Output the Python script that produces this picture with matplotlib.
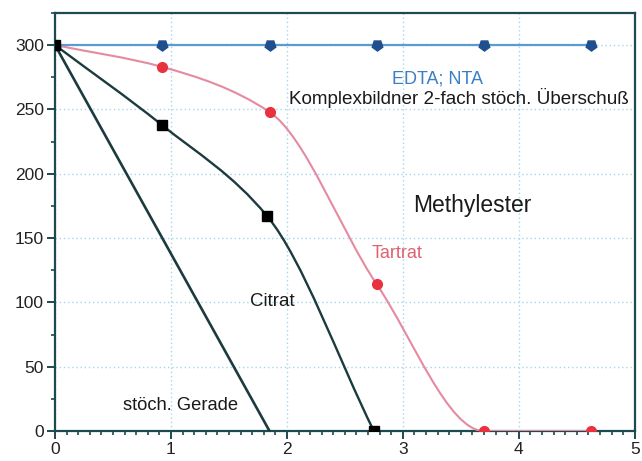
import numpy as np
import matplotlib
matplotlib.use("Agg")
import matplotlib.pyplot as plt
from matplotlib.path import Path
from matplotlib.patches import PathPatch
from matplotlib.ticker import MultipleLocator

plt.rcParams['font.family'] = ['Liberation Sans', 'DejaVu Sans']

# ---------------- Data ----------------
edta_x = [0, 0.925, 1.85, 2.775, 3.7, 4.625]
edta_y = [300, 300, 300, 300, 300, 300]

tartrat_x = [0, 0.925, 1.85, 2.775, 3.7, 4.625]
tartrat_y = [300, 283, 248, 114, 0, 0]

citrat_x = [0, 0.92, 1.83, 2.75]
citrat_y = [300, 238, 167, 0]

gerade_x = [0, 1.85]
gerade_y = [300, 0]

# ---------------- Colours ----------------
spine_col = "#1d4a50"
dark_line = "#1c3b3e"
blue_line = "#5a9bd0"
blue_mark = "#1f4f8c"
red_line = "#e58aa0"
red_mark = "#e8323f"
grid_col = "#a6d6ea"


def smooth_path(xs, ys):
    # monotone cubic (Fritsch-Carlson) tangents, drawn as bezier segments
    x = np.asarray(xs, float)
    y = np.asarray(ys, float)
    h = np.diff(x)
    d = np.diff(y) / h
    m = np.zeros_like(y)
    m[0], m[-1] = d[0], d[-1]
    for k in range(1, len(x) - 1):
        if d[k - 1] * d[k] <= 0:
            m[k] = 0
        else:
            w1 = 2 * h[k] + h[k - 1]
            w2 = h[k] + 2 * h[k - 1]
            m[k] = (w1 + w2) / (w1 / d[k - 1] + w2 / d[k])
    verts = [(x[0], y[0])]
    codes = [Path.MOVETO]
    for k in range(len(x) - 1):
        verts += [(x[k] + h[k] / 3, y[k] + m[k] * h[k] / 3),
                  (x[k + 1] - h[k] / 3, y[k + 1] - m[k + 1] * h[k] / 3),
                  (x[k + 1], y[k + 1])]
        codes += [Path.CURVE4] * 3
    return Path(verts, codes)


fig = plt.figure(figsize=(6.42, 4.61), dpi=100)
ax = fig.add_axes([0.0857, 0.065, 0.903, 0.907])

ax.set_xlim(0, 5)
ax.set_ylim(0, 325)

ax.xaxis.set_major_locator(MultipleLocator(1))
ax.xaxis.set_minor_locator(MultipleLocator(0.1))
ax.yaxis.set_major_locator(MultipleLocator(50))
ax.yaxis.set_minor_locator(MultipleLocator(25))
ax.set_yticks(range(0, 301, 50))

ax.grid(True, which="major", linestyle=(0, (1, 2)), color=grid_col, linewidth=1.0)
ax.set_axisbelow(True)

for s in ax.spines.values():
    s.set_color(spine_col)
    s.set_linewidth(1.6)

ax.tick_params(which="major", direction="out", length=6, width=1.4, color=spine_col,
               labelsize=12.5, labelcolor="#222222", pad=2)
ax.tick_params(which="minor", direction="out", length=3, width=1.2, color=spine_col)

# --- curves ---
ax.add_patch(PathPatch(smooth_path(tartrat_x, tartrat_y), fill=False,
                       edgecolor=red_line, linewidth=1.5, zorder=3))
ax.add_patch(PathPatch(smooth_path(citrat_x, citrat_y), fill=False,
                       edgecolor=dark_line, linewidth=1.7, zorder=3))
ax.plot(gerade_x, gerade_y, color=dark_line, linewidth=1.9, zorder=3)
ax.plot(edta_x, edta_y, color=blue_line, linewidth=1.6, zorder=3)

# --- markers ---
ax.plot(edta_x, edta_y, linestyle="none", marker=(5, 0, 180), markersize=8,
        color=blue_mark, zorder=4)
ax.plot(tartrat_x, tartrat_y, linestyle="none", marker="o", markersize=7,
        color=red_mark, zorder=4)
ax.plot(citrat_x, citrat_y, linestyle="none", marker="s", markersize=7,
        color="black", zorder=4)

# --- labels ---
ax.text(3.3, 274, "EDTA; NTA", color="#3a7fc4", fontsize=13, ha="center", va="center")
ax.text(3.48, 259, "Komplexbildner 2-fach stöch. Überschuß", color="#1a1a1a",
        fontsize=13.6, ha="center", va="center")
ax.text(3.6, 175, "Methylester", color="#1a1a1a", fontsize=16.5, ha="center", va="center")
ax.text(2.73, 138, "Tartrat", color="#e06070", fontsize=13, ha="left", va="center")
ax.text(1.68, 101, "Citrat", color="#1a1a1a", fontsize=13.5, ha="left", va="center")
ax.text(0.59, 20, "stöch. Gerade", color="#1a1a1a", fontsize=13.2, ha="left", va="center")

fig.savefig("out.png", dpi=100)
